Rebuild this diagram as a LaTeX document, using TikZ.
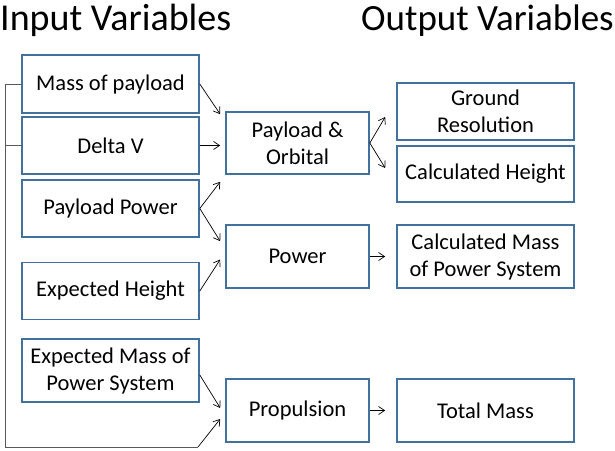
\documentclass[tikz,border=0pt]{standalone}
\usepackage{fontspec}
\setmainfont{Carlito}
\usetikzlibrary{arrows.meta,calc}
\definecolor{boxblue}{HTML}{41719C}
\definecolor{linegray}{HTML}{595959}
\begin{document}
\begin{tikzpicture}[x=1pt,y=-1pt,
  vbox/.style={draw=boxblue,line width=1.6pt,fill=white,inner sep=0pt,align=center,
    font=\fontsize{22.5}{27}\selectfont},
  wide/.style={minimum width=177pt},
  mid/.style={minimum width=143pt},
  arr/.style={line width=0.7pt,-{Straight Barb[length=6pt,width=8pt]}},
  gline/.style={draw=linegray,line width=1pt},
  title/.style={font=\fontsize{37}{40}\selectfont,inner sep=0pt,anchor=base west}]
\useasboundingbox (0,0) rectangle (615,450);
\node[title,font=\fontsize{38}{40}\selectfont] (tin) at (0,30) {Input Variables};
\node[title] (tout) at (361,30) {Output Variables};
% inputs
\node[vbox,wide,minimum height=58pt] (mass) at (110.5,84) {Mass of payload};
\node[vbox,wide,minimum height=57pt] (delta) at (110.5,145.5) {Delta V};
\node[vbox,wide,minimum height=57pt] (ppower) at (110.5,208.5) {Payload Power};
\node[vbox,wide,minimum height=57pt] (eheight) at (110.5,291) {Expected Height};
\node[vbox,wide,minimum height=63pt] (emass) at (110.5,370.5) {Expected Mass of\\Power System};
% middle
\node[vbox,mid,minimum height=62pt] (po) at (297.5,143) {Payload \&\\Orbital};
\node[vbox,mid,minimum height=63pt] (power) at (297.5,256.5) {Power};
\node[vbox,mid,minimum height=63pt] (prop) at (297.5,410.5) {Propulsion};
% outputs
\node[vbox,wide,minimum height=57pt] (ground) at (485.5,111.5) {Ground\\Resolution};
\node[vbox,wide,minimum height=56pt] (calch) at (485.5,174) {Calculated Height};
\node[vbox,wide,minimum height=63pt] (calcm) at (485.5,256.5) {Calculated Mass\\of Power System};
\node[vbox,wide,minimum height=63pt] (total) at (485.5,410.5) {Total Mass};
% free ends
\coordinate (a1) at ($(po.north west)+(-5,3)$);
\coordinate (a2) at ($(po.west)+(-5,2.5)$);
\coordinate (a3) at ($(po.south west)+(-5,7)$);
\coordinate (a4) at ($(power.north west)+(-5,17)$);
\coordinate (a5) at ($(power.west)+(-5,3)$);
\coordinate (a6) at ($(ground.west)+(-11,5.5)$);
\coordinate (a7) at ($(calch.west)+(-11,-6)$);
\coordinate (a8) at ($(calcm.west)+(-11,0)$);
\coordinate (a9) at ($(prop.west)+(-5,-2.5)$);
\coordinate (a10) at ($(total.west)+(-11,0)$);
\coordinate (a11) at ($(prop.west)+(-5,8.5)$);
\coordinate (s7) at ($(emass.east)+(0,4.5)$);
\coordinate (bl) at (5,447);
\coordinate (br) at (198,447);
% connectors
\draw[arr] (mass.east) -- (a1);
\draw[arr] (delta.east) -- (a2);
\draw[arr] (ppower.east) -- (a3);
\draw[arr] (ppower.east) -- (a4);
\draw[arr] (eheight.east) -- (a5);
\draw[arr] (po.east) -- (a6);
\draw[arr] (po.east) -- (a7);
\draw[arr] (power.east) -- (a8);
\draw[arr] (s7) -- (a9);
\draw[arr] (prop.east) -- (a10);
\draw[gline] (mass.west) -| (bl) -- (br);
\draw[gline] (delta.west) -- (delta.west -| bl);
\draw[arr] (br) -- (a11);
\end{tikzpicture}
\end{document}
